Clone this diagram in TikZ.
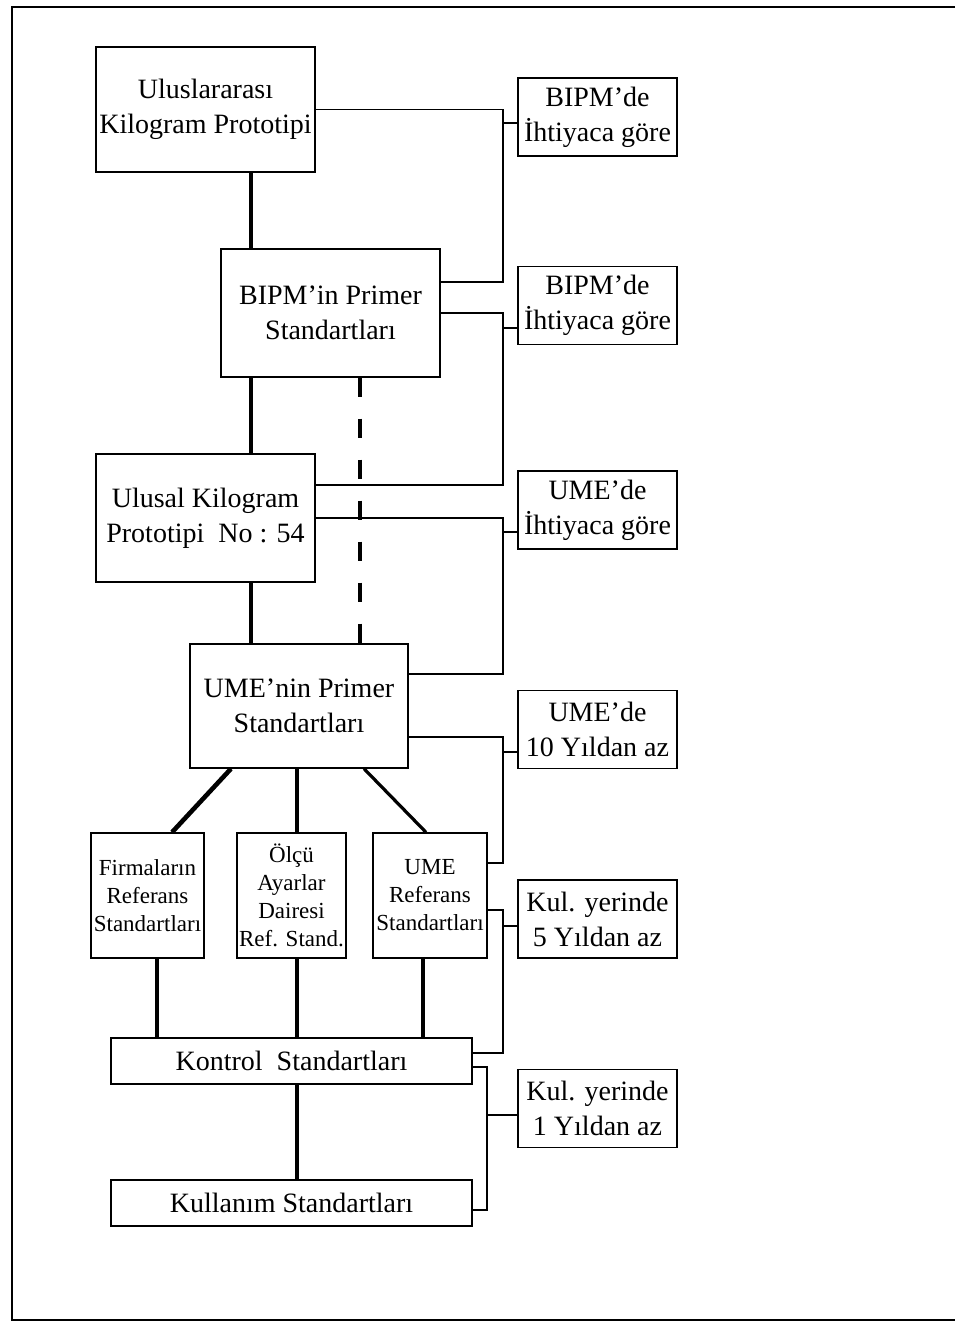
\documentclass[tikz,border=0pt]{standalone}
\usepackage{fontspec}
\setmainfont{Liberation Serif}
\usetikzlibrary{calc}
\tikzstyle{box}=[draw=black,fill=white,align=center,inner sep=0pt,font=\fontsize{14}{17.5}\selectfont]
\tikzstyle{bigbox}=[box,minimum width=109.5pt,minimum height=63pt]
\tikzstyle{refbox}=[box,minimum width=56pt,minimum height=62.5pt,font=\fontsize{11.5}{14}\selectfont]
\tikzstyle{sidebox}=[box,minimum width=79.5pt,minimum height=39pt]
\tikzstyle{barbox}=[box,minimum width=180.5pt,minimum height=23pt]
\tikzstyle{heavy}=[line width=2.3pt]
\tikzstyle{medium}=[line width=1.6pt]

\begin{document}
\begin{tikzpicture}[x=0.5pt,y=-0.5pt,line width=0.7pt]
\useasboundingbox (0,0) rectangle (955,1322);
\draw (955,7) -- (12,7) -- (12,1320) -- (955,1320);
% columns and spines
\coordinate (colA) at (251,0);
\coordinate (colC) at (297,0);
\coordinate (colD) at (360,0);
\coordinate (colF) at (157,0);
\coordinate (colU) at (423,0);
\coordinate (spine) at (503,0);
\coordinate (spineB) at (487,0);
% main chain
\node[bigbox,minimum height=62.5pt] (uk) at (205.5,109.5) {Uluslararası\\Kilogram Prototipi};
\node[bigbox,minimum height=64pt] (bp) at (330.5,313) {BIPM’in Primer\\Standartları};
\node[bigbox,minimum height=64pt] (ul) at (205.5,518) {Ulusal Kilogram\\Prototipi\ \ No : 54};
\node[bigbox,minimum width=109pt,minimum height=62pt] (up) at (299,706) {UME’nin Primer\\Standartları};
\node[refbox,minimum width=56.5pt] (fr) at (147.5,895.5) {Firmaların\\Referans\\Standartları};
\node[refbox,minimum width=54.5pt] (oa) at (291.5,895.5) {Ölçü\\Ayarlar\\Dairesi\\Ref. Stand.};
\node[refbox,minimum width=57pt] (ur) at (430,895.5) {UME\\Referans\\Standartları};
\node[barbox] (ks) at (291.5,1061) {Kontrol\ \ Standartları};
\node[barbox] (kl) at (291.5,1203) {Kullanım Standartları};
% intervals
\node[sidebox] (r1) at (597.5,117) {BIPM’de\\İhtiyaca göre};
\node[sidebox] (r2) at (597.5,305.5) {BIPM’de\\İhtiyaca göre};
\node[sidebox] (r3) at (597.5,510) {UME’de\\İhtiyaca göre};
\node[sidebox] (r4) at (597.5,729.5) {UME’de\\10 Yıldan az};
\node[sidebox] (r5) at (597.5,919) {Kul. yerinde\\5 Yıldan az};
\node[sidebox] (r6) at (597.5,1108.5) {Kul. yerinde\\1 Yıldan az};

\draw[heavy] (uk.south -| colA) -- (bp.north -| colA);
\draw[heavy] (bp.south -| colA) -- (ul.north -| colA);
\draw[heavy] (ul.south -| colA) -- (up.north -| colA);
\draw[medium,dash pattern=on 9.5pt off 11pt] (bp.south -| colD) -- (up.north -| colD);
\draw[heavy] ($(up.south)+(-68,0)$) -- ($(fr.north)+(24.5,0)$);
\draw[medium] (up.south -| colC) -- (oa.north -| colC);
\draw[medium] ($(up.south)+(65,0)$) -- ($(ur.north)+(-4,0)$);
\draw[heavy] (fr.south -| colF) -- (ks.north -| colF);
\draw[medium] (oa.south -| colC) -- (ks.north -| colC);
\draw[medium] (ur.south -| colU) -- (ks.north -| colU);
\draw[medium] (ks.south -| colC) -- (kl.north -| colC);

\draw (uk.east) -| (spine |- 0,282) -- (bp.east |- 0,282);
\draw (bp.east) -| (spine |- 0,485) -- (ul.east |- 0,485);
\draw (ul.east) -| (spine |- 0,674) -- (up.east |- 0,674);
\draw (up.east |- 0,737) -| (spine |- 0,863) -- (ur.east |- 0,863);
\draw (ur.east |- 0,910) -| (spine |- 0,1053) -- (ks.east |- 0,1053);
\draw (ks.east |- 0,1067) -| (spineB |- 0,1210) -- (kl.east |- 0,1210);
\foreach \r/\y/\s in {r1/123/spine, r2/328/spine, r3/532/spine, r4/752/spine, r5/926/spine, r6/1115/spineB}
  \draw (\r.west |- 0,\y) -- (\s |- 0,\y);
\end{tikzpicture}
\end{document}
